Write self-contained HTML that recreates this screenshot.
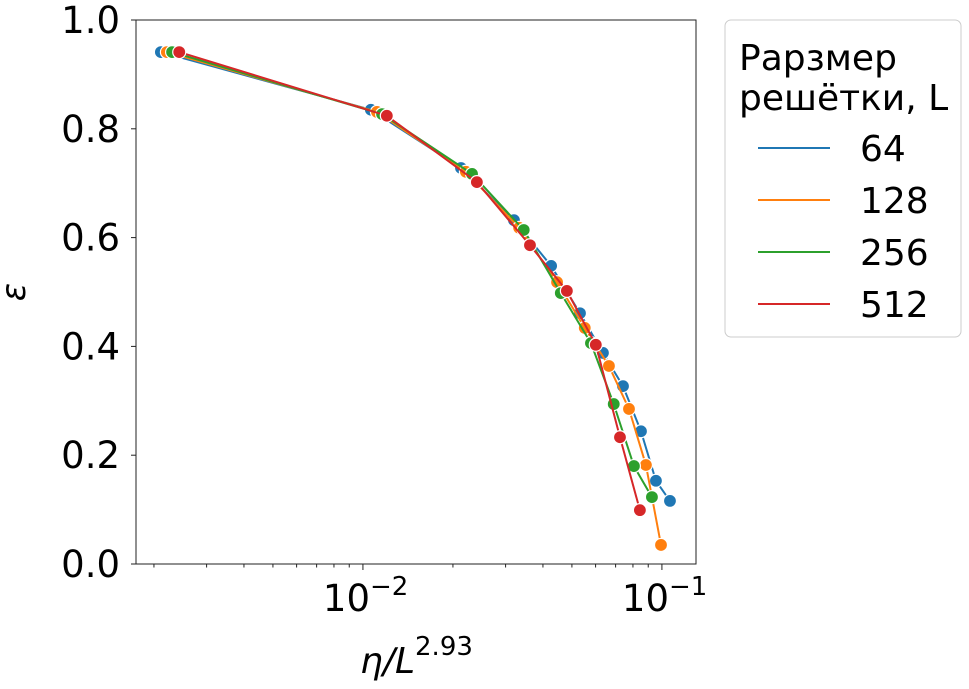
<!DOCTYPE html>
<html><head><meta charset="utf-8"><style>
body{margin:0;background:#fff;}
svg{display:block;font-family:"DejaVu Sans","Liberation Sans",sans-serif;}
</style></head><body>
<svg id="chart" width="969" height="689" xmlns="http://www.w3.org/2000/svg">
<g id="plot"></g>
<g id="axes"></g>
<text x="25" y="292" font-size="34" font-style="italic" text-anchor="middle" transform="rotate(-90 25 292)">ε</text>
<text x="360" y="673" font-size="36" font-style="italic">η/L<tspan dy="-18" font-size="26" font-style="normal">2.93</tspan></text>
<g>
<rect x="725" y="20" width="236" height="317" rx="6" fill="#fff" stroke="#ccc" stroke-width="1"/>
<text x="739" y="70" font-size="36">Рарзмер</text>
<text x="739" y="110" font-size="36">решётки, L</text>
<g id="legend-entries"></g>
</g>
</svg>
<script>
const series = ["64","128","256","512"];
const colors = ["#1f77b4","#ff7f0e","#2ca02c","#d62728"];
const xs64 = [0.00211,0.01063,0.02128,0.0320,0.0426,0.0532,0.0635,0.0741,0.0851,0.0955,0.1064];
const ys64 = [0.941,0.835,0.728,0.632,0.548,0.461,0.388,0.327,0.244,0.153,0.116];
const xs128 = [0.00221,0.01114,0.02210,0.0333,0.0446,0.0552,0.0665,0.0776,0.0884,0.0993];
const ys128 = [0.941,0.831,0.721,0.618,0.518,0.434,0.364,0.285,0.182,0.035];
const xs256 = [0.00230,0.01159,0.02317,0.0345,0.0459,0.0579,0.0690,0.0806,0.0926];
const ys256 = [0.941,0.827,0.717,0.614,0.498,0.406,0.294,0.180,0.123];
const xs512 = [0.00243,0.01202,0.02405,0.0362,0.0481,0.0601,0.0724,0.0844];
const ys512 = [0.941,0.824,0.702,0.586,0.502,0.403,0.233,0.099];
const yTicks = [0,0.2,0.4,0.6,0.8,1.0];
const xMajor = [0.01,0.1];
const xMajorLabels = ["−2","−1"];

const L=136,R=696,T=20,B=564, xmin=-2.759, xmax=-0.886;
const X=v=>L+(Math.log10(v)-xmin)/(xmax-xmin)*(R-L);
const Y=v=>B-v*(B-T);
const NS="http://www.w3.org/2000/svg";
function mk(tag,attrs,parent){const e=document.createElementNS(NS,tag);for(const k in attrs)e.setAttribute(k,attrs[k]);parent.appendChild(e);return e;}
const plot=document.getElementById('plot'), axes=document.getElementById('axes');
const allX=[xs64,xs128,xs256,xs512], allY=[ys64,ys128,ys256,ys512];
allX.forEach((xs,i)=>{
  const g=mk('g',{},plot);
  
  
  const pl=mk('polyline',{points:xs.map((x,j)=>X(x)+','+Y(allY[i][j])).join(' '),fill:'none',stroke:colors[i],'stroke-width':2},g);
  
  
  xs.forEach((x,j)=>{
    const c=mk('circle',{cx:X(x),cy:Y(allY[i][j]),r:6.5,fill:colors[i],stroke:'#fff','stroke-width':1.2},g);
    
    
  });
});
mk('rect',{x:L,y:T,width:R-L,height:B-T,fill:'none',stroke:'#222','stroke-width':1},axes);
yTicks.forEach(t=>{
  mk('line',{x1:L-5,x2:L,y1:Y(t),y2:Y(t),stroke:'#222'},axes);
  const tx=mk('text',{x:L-16,y:Y(t)+13,'font-size':37,'text-anchor':'end'},axes);
  tx.textContent=t.toFixed(1);
  
  
});
for(let d=-3;d<=-1;d++){for(let m=1;m<10;m++){const v=m*Math.pow(10,d);const lv=Math.log10(v);if(lv<xmin||lv>xmax)continue;
  mk('line',{x1:X(v),x2:X(v),y1:B,y2:B+(m===1?6:3.5),stroke:'#222'},axes);}}
xMajor.forEach((v,i)=>{
  const tx=mk('text',{x:X(v)-40,y:611,'font-size':37},axes);
  
  
  tx.innerHTML='10<tspan dy="-16" font-size="26">'+xMajorLabels[i]+'</tspan>';
});
const le=document.getElementById('legend-entries');
series.forEach((s,i)=>{
  const y=148+52*i;
  const g=mk('g',{},le);
  
  
  mk('line',{x1:758,x2:830,y1:y,y2:y,stroke:colors[i],'stroke-width':2},g);
  const t=mk('text',{x:860,y:y+13,'font-size':36},g);
  t.textContent=s;
});
</script>
</body></html>
